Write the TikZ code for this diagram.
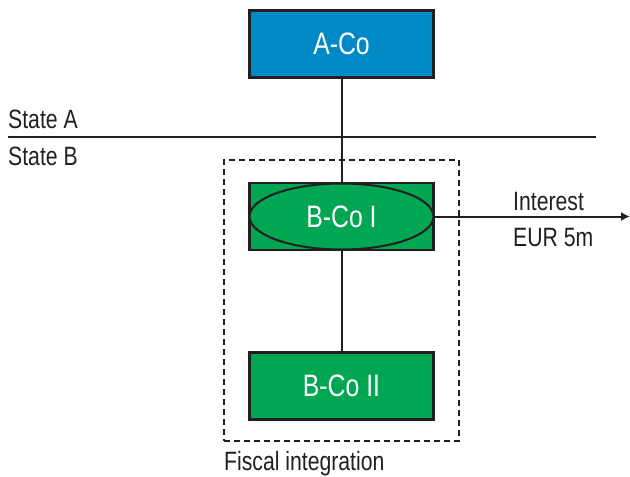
\documentclass[tikz,border=0pt]{standalone}
\usepackage{fontspec}
\setmainfont[FakeStretch=0.8]{Liberation Sans}
\usetikzlibrary{shapes.geometric,arrows.meta}
\definecolor{ink}{HTML}{231F20}
\definecolor{aco blue}{HTML}{0089C4}
\definecolor{bco green}{HTML}{00A651}
\tikzset{company/.style={draw=ink, line width=2.6pt, minimum width=184pt, minimum height=67pt,
      inner sep=0pt, text=white, font=\fontsize{31}{31}\selectfont},
    link/.style={draw=ink, line width=2pt},
    caption/.style={anchor=base west, inner sep=0pt, text=ink, font=\fontsize{26.5}{26.5}\selectfont}}

\begin{document}
\begin{tikzpicture}[x=1pt,y=-1pt]
    \useasboundingbox (0,0) rectangle (630,477);
    % fiscal unit
    \node[draw=ink, line width=1.6pt, dash pattern=on 6pt off 4pt,
      minimum width=235pt, minimum height=281pt] (fiscal) at (341.5,300.5) {};
    \node[caption] (fiscal label) at (224,470) {Fiscal integration};
    % border between the states
    \coordinate (border w) at (8,137);
    \coordinate (border e) at (596,137);
    \draw[link] (border w) -- (border e);
    \node[caption] (state a) at (8,128) {State A};
    \node[caption] (state b) at (8,165) {State B};
    % companies
    \node[company, fill=aco blue] (aco) at (341.5,44) {A-Co};
    \node[company, fill=bco green] (bco1) at (341.5,216.5) {};
    \node[ellipse, draw=ink, line width=2pt, fill=bco green, minimum width=184pt,
      minimum height=66pt, inner sep=0pt, text=white, font=\fontsize{31}{31}\selectfont]
      (bco1 oval) at (bco1) {B-Co I};
    \node[company, fill=bco green] (bco2) at (341.5,386) {B-Co II};
    \draw[link] (aco) -- (bco1);
    \draw[link] (bco1) -- (bco2);
    % interest payment
    \coordinate (payee) at (630,216.5);
    \draw[link, -{Latex[length=9pt,width=9pt]}] (bco1 oval.east) -- (payee);
    \node[caption] (interest) at (513,210) {Interest};
    \node[caption] (amount) at (513,246) {EUR 5m};
\end{tikzpicture}
\end{document}
